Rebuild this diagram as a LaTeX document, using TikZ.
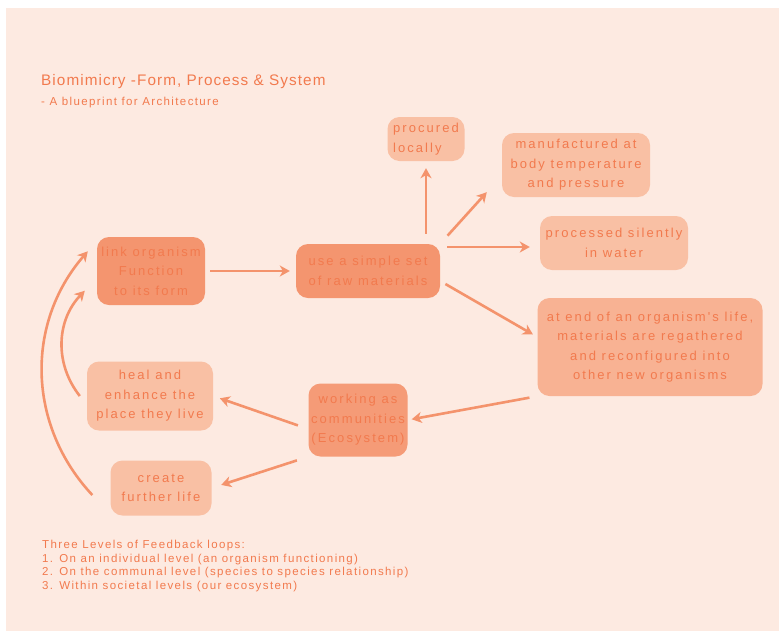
\documentclass[tikz,border=0pt]{standalone}
\usepackage{fontspec}
\setmainfont{Liberation Sans}
\newfontfamily\boxfont[LetterSpace=16]{Liberation Sans}
\newfontfamily\headfont[LetterSpace=7]{Liberation Sans}
\newfontfamily\notefont[LetterSpace=12]{Liberation Sans}
\usepackage{xcolor}
\usepackage{tikz}
\usetikzlibrary{arrows.meta, positioning}
\definecolor{paper}{HTML}{FDEAE1}
\definecolor{pale}{HTML}{F9C0A4}
\definecolor{midtone}{HTML}{F8B293}
\definecolor{deep}{HTML}{F4956F}
\definecolor{ink}{HTML}{F27A4E}
\definecolor{wire}{HTML}{F4936C}

\begin{document}
\begin{tikzpicture}[x=1pt, y=1pt,
    every node/.style={text=ink},
    box/.style={fill=pale, rounded corners=12pt, inner sep=0pt, align=center,
      font=\boxfont\fontsize{13}{19.5}\selectfont},
    deepbox/.style={box, fill=deep},
    arr/.style={-{Stealth[length=10pt, width=11pt, inset=3pt]}, line width=2.6pt, wire},
  ]
  \useasboundingbox (0,0) rectangle (779,-635);
  \fill[paper] (6,-8) rectangle (779,-631);

  \node[anchor=base west, inner sep=0pt, font=\headfont\fontsize{15.3}{18}\selectfont] (title) at (41,-85)
    {Biomimicry -Form, Process \& System};
  \node[below=9pt of title.south west, anchor=north west, inner sep=0pt,
    font=\notefont\fontsize{11.5}{13}\selectfont] (subtitle) {- A blueprint for Architecture};

  \node[deepbox, minimum width=108, minimum height=68] (link) at (151,-271) {link organism\\Function\\to its form};
  \node[deepbox, minimum width=144, minimum height=54] (raw) at (368,-271) {use a simple set\\of raw materials};
  \node[box, minimum width=77, minimum height=44, align=left] (proc) at (426,-139) {procured\\locally};
  \node[box, minimum width=148, minimum height=64] (manu) at (576,-165) {manufactured at\\body temperature\\and pressure};
  \node[box, minimum width=148, minimum height=54] (silent) at (614,-243) {processed silently\\in water};
  \node[box, fill=midtone, minimum width=225, minimum height=98] (regath) at (650,-347)
    {at end of an organism's life,\\materials are regathered\\and reconfigured into\\other new organisms};
  \node[deepbox, fill=deep!85!pale, minimum width=99, minimum height=73] (comm) at (358,-420) {working as\\communities\\(Ecosystem)};
  \node[box, minimum width=126, minimum height=69] (heal) at (150,-396) {heal and\\enhance the\\place they live};
  \node[box, minimum width=101, minimum height=55] (life) at (161,-488) {create\\further life};

  \node[anchor=north west, inner sep=0pt, align=left, font=\notefont\fontsize{11.5}{13.5}\selectfont] (levels) at (42,-540)
    {Three Levels of Feedback loops:\\
     1. On an individual level (an organism functioning)\\
     2. On the communal level (species to species relationship)\\
     3. Within societal levels (our ecosystem)};

  \draw[arr, shorten <=5pt, shorten >=6pt] (link) -- (raw);
  \draw[arr, shorten <=10pt, shorten >=7pt] (proc |- raw.north) -- (proc);
  \draw[arr, shorten <=11pt] (raw.north east) -- ([xshift=-15pt, yshift=5pt]manu.south west);
  \draw[arr, shorten <=7pt, shorten >=10pt] ([yshift=24pt]raw.east) -- ([yshift=24pt]raw.east -| silent.west);
  \draw[arr, shorten <=6pt, shorten >=5pt] ([yshift=-10pt]raw.east) -- ([yshift=10pt]regath.west);
  \draw[arr, shorten <=8pt, shorten >=4pt] (regath.south west) -- (comm.east);
  \draw[arr, shorten <=11pt, shorten >=7pt] ([yshift=-9pt]comm.west) -- (heal.east);
  \draw[arr, shorten <=12pt, shorten >=10pt] (comm.south west) -- (life.east);
  \draw[arr] ([xshift=-7pt]heal.west) to[bend left=41] ([xshift=-12pt]link.200);
  \draw[arr] ([xshift=-18pt, yshift=-7pt]life.west) to[bend left=42] ([xshift=-9pt]link.160);
\end{tikzpicture}
\end{document}
